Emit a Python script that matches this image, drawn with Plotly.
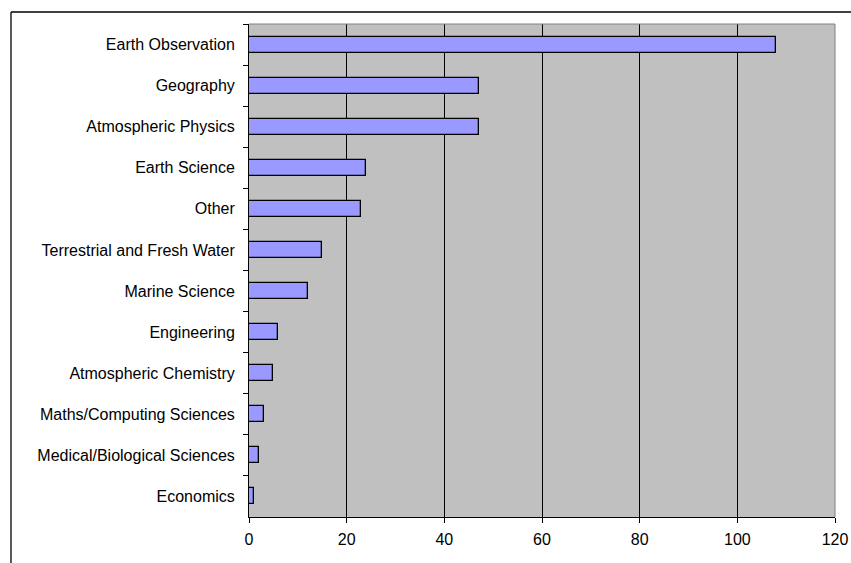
import plotly.graph_objects as go

# Subject areas, listed top to bottom
subjects = [
    "Earth Observation",
    "Geography",
    "Atmospheric Physics",
    "Earth Science",
    "Other",
    "Terrestrial and Fresh Water",
    "Marine Science",
    "Engineering",
    "Atmospheric Chemistry",
    "Maths/Computing Sciences",
    "Medical/Biological Sciences",
    "Economics",
]
counts = [108, 47, 47, 24, 23, 15, 12, 6, 5, 3, 2, 1]
x_ticks = [0, 20, 40, 60, 80, 100, 120]

W, H = 851, 563
L, R, T, B = 249, 16, 24, 46
pw, ph = W - L - R, H - T - B

fig = go.Figure(
    go.Bar(
        x=counts,
        y=subjects,
        orientation="h",
        width=0.39,
        marker=dict(color="#9999FF", line=dict(color="#000000", width=1.3)),
        hoverinfo="x+y",
    )
)

font = dict(family="Liberation Sans, Arial, sans-serif", size=16, color="#000000")

fig.update_layout(
    template="none",
    width=W,
    height=H,
    margin=dict(l=L, r=R, t=T, b=B, pad=0),
    paper_bgcolor="#FFFFFF",
    plot_bgcolor="#C0C0C0",
    font=font,
    showlegend=False,
    bargap=0,
)

fig.update_xaxes(
    automargin=False,
    range=[0, 120],
    tickvals=x_ticks,
    ticktext=[str(v) for v in x_ticks],
    showgrid=True,
    gridcolor="#000000",
    gridwidth=1,
    zeroline=False,
    showline=True,
    linecolor="#000000",
    linewidth=1,
    ticks="outside",
    ticklen=5,
    tickcolor="#000000",
    tickfont=font,
    ticklabelstandoff=3,
)

fig.update_yaxes(
    automargin=False,
    type="category",
    categoryorder="array",
    categoryarray=subjects,
    autorange="reversed",
    showgrid=False,
    zeroline=False,
    showline=True,
    linecolor="#000000",
    linewidth=1,
    ticks="outside",
    tickson="boundaries",
    ticklen=5,
    tickcolor="#000000",
    tickfont=font,
    ticklabelstandoff=10,
)

# Grey frame on the top and right edges of the plotting area
fig.add_shape(type="line", xref="paper", yref="paper", x0=0, x1=1, y0=1, y1=1,
              line=dict(color="#808080", width=1))
fig.add_shape(type="line", xref="paper", yref="paper", x0=1, x1=1, y0=0, y1=1,
              line=dict(color="#808080", width=1))

# Outer chart border (left and top edges)
bx = (11 - L) / pw
by = (H - B - 12) / ph
fig.add_shape(type="line", xref="paper", yref="paper", x0=bx, x1=2, y0=by, y1=by,
              line=dict(color="#000000", width=1.3))
fig.add_shape(type="line", xref="paper", yref="paper", x0=bx, x1=bx, y0=by, y1=-1,
              line=dict(color="#000000", width=1.3))

fig.write_html("out.html")
